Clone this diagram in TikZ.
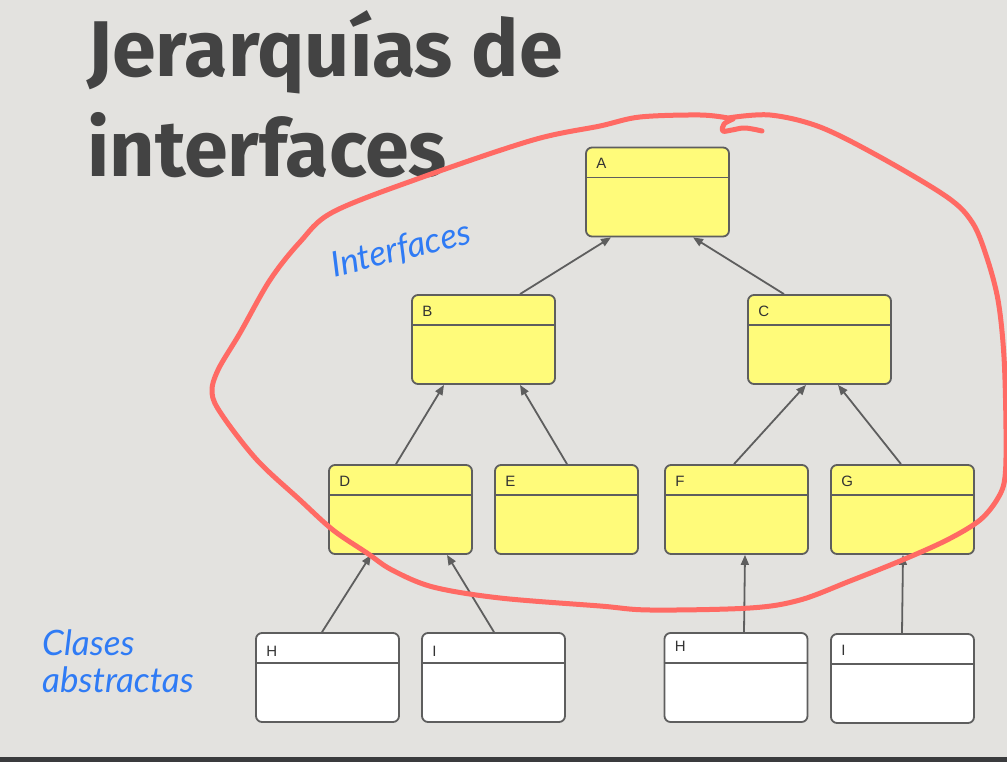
\documentclass[tikz,border=0pt]{standalone}
\usepackage{fontspec}
\usetikzlibrary{calc,arrows.meta}
\newfontfamily\titlefont{Fira Sans}
\newfontfamily\boxfont{Liberation Sans}
\newfontfamily\notefont{Lato}

\definecolor{bg}{HTML}{E3E2DF}
\definecolor{barcol}{HTML}{3A3B3D}
\definecolor{titlecol}{HTML}{434343}
\definecolor{edgecol}{HTML}{5E5E5E}
\definecolor{ifill}{HTML}{FFFB7A}
\definecolor{loopcol}{HTML}{FF6A64}
\definecolor{notecol}{HTML}{2F7BF5}

\tikzset{
  classbox/.style={draw=edgecol, line width=1.8pt, rounded corners=6pt,
    minimum width=143pt, minimum height=89pt, inner sep=0pt},
  ibox/.style={classbox, fill=ifill},
  abox/.style={classbox, fill=white},
  divider/.style={draw=edgecol, line width=1.8pt},
  lbl/.style={font=\boxfont\fontsize{15}{15}\selectfont, text=black!80, inner sep=0pt, anchor=base west},
  inherit/.style={draw=edgecol, line width=1.8pt,
    -{Triangle[length=10pt,width=8pt]}},
  loop/.style={draw=loopcol, line width=5pt, line cap=round, line join=round},
  note/.style={font=\notefont\itshape\fontsize{35}{40}\selectfont, text=notecol, inner sep=0pt}
}

% box with header line and a label; #1 name, #2 style, #3 centre, #4 label, #5 label baseline offset
\newcommand\classbox[5]{%
  \node[#2] (#1) at #3 {};
  \draw[divider] ($(#1.north west)+(0,31)$) -- ($(#1.north east)+(0,31)$);
  \node[lbl] (#1-name) at ($(#1.north west)+(11,#5)$) {#4};
}

\begin{document}
\begin{tikzpicture}[x=1pt, y=-1pt]
  \useasboundingbox (0,0) rectangle (1007,762);
  \fill[bg] (0,0) rectangle (1007,762);
  \fill[barcol] (0,757) rectangle (1007,762);

  % title
  \node[anchor=base west, inner sep=0pt, text=titlecol,
        font=\titlefont\bfseries\fontsize{79}{100}\selectfont] (title1) at (87,77) {Jerarquías de};
  \node[anchor=base west, inner sep=0pt, text=titlecol,
        font=\titlefont\bfseries\fontsize{79}{100}\selectfont] (title2) at (87,177) {interfaces};

  % interfaces
  \classbox{A}{ibox}{(657.5,192)}{A}{22}
  \classbox{B}{ibox}{(483.5,339.5)}{B}{22}
  \classbox{C}{ibox}{(819.5,339.5)}{C}{22}
  \classbox{D}{ibox}{(400.5,509.5)}{D}{22}
  \classbox{E}{ibox}{(566.5,509.5)}{E}{22}
  \classbox{F}{ibox}{(736.5,509.5)}{F}{22}
  \classbox{G}{ibox}{(902.5,509.5)}{G}{22}

  % abstract classes
  \classbox{H1}{abox}{(327.5,677.5)}{H}{24}
  \classbox{I1}{abox}{(493.5,677.5)}{I}{24}
  \classbox{H2}{abox}{(736,677.5)}{H}{19}
  \classbox{I2}{abox}{(902.5,678.5)}{I}{22}

  % inheritance arrows
  \draw[inherit] ($(B.north)+(36.5,0)$) -- ($(A.south)+(-46.5,0)$);
  \draw[inherit] ($(C.north)+(-35.5,0)$) -- ($(A.south)+(35.5,0)$);
  \draw[inherit] ($(D.north)+(-4.5,0)$) -- ($(B.south)+(-39.5,0)$);
  \draw[inherit] ($(E.north)+(0.5,0)$) -- ($(B.south)+(36.5,0)$);
  \draw[inherit] ($(F.north)+(-2.5,0)$) -- ($(C.south)+(-13.5,0)$);
  \draw[inherit] ($(G.north)+(-1.5,0)$) -- ($(C.south)+(18.5,0)$);
  \draw[inherit] ($(H1.north)+(-5.5,0)$) -- ($(D.south)+(-29.5,0)$);
  \draw[inherit] ($(I1.north)+(0.5,0)$) -- ($(D.south)+(46.5,0)$);
  \draw[inherit] ($(H2.north)+(8,0)$) -- ($(F.south)+(8.5,0)$);
  \draw[inherit] ($(I2.north)+(-0.5,0)$) -- ($(G.south)+(0.5,0)$);

  % freehand loop around the interfaces
  \draw[loop] plot[smooth, tension=0.55] coordinates {
    (728,118) (770,115) (820,127) (880,157) (947,197) (972,222)
    (986,255) (998,300) (1004,357) (1006,430) (1005,477) (998,498)
    (980,520) (947,540) (900,561) (850,581) (800,600) (750,608)
    (650,610) (600,606) (500,598) (433,587) (392,570) (367,553)
    (333,530) (300,500) (257,460) (222,415) (212,393) (218,370)
    (240,333) (270,280) (300,242) (333,212) (420,178) (533,140)
    (600,126) (640,117) (700,115) (728,118)};
  \draw[loop] plot[smooth, tension=0.6] coordinates {
    (733,119) (724,124) (723,131) (732,130) (745,128) (762,131)};

  % handwritten notes
  \node[note, rotate=14] (n1) at (401,250) {Interfaces};
  \node[note, anchor=base west] (n2) at (42,655) {Clases};
  \node[note, anchor=base west] (n3) at (42,692) {abstractas};
\end{tikzpicture}
\end{document}
